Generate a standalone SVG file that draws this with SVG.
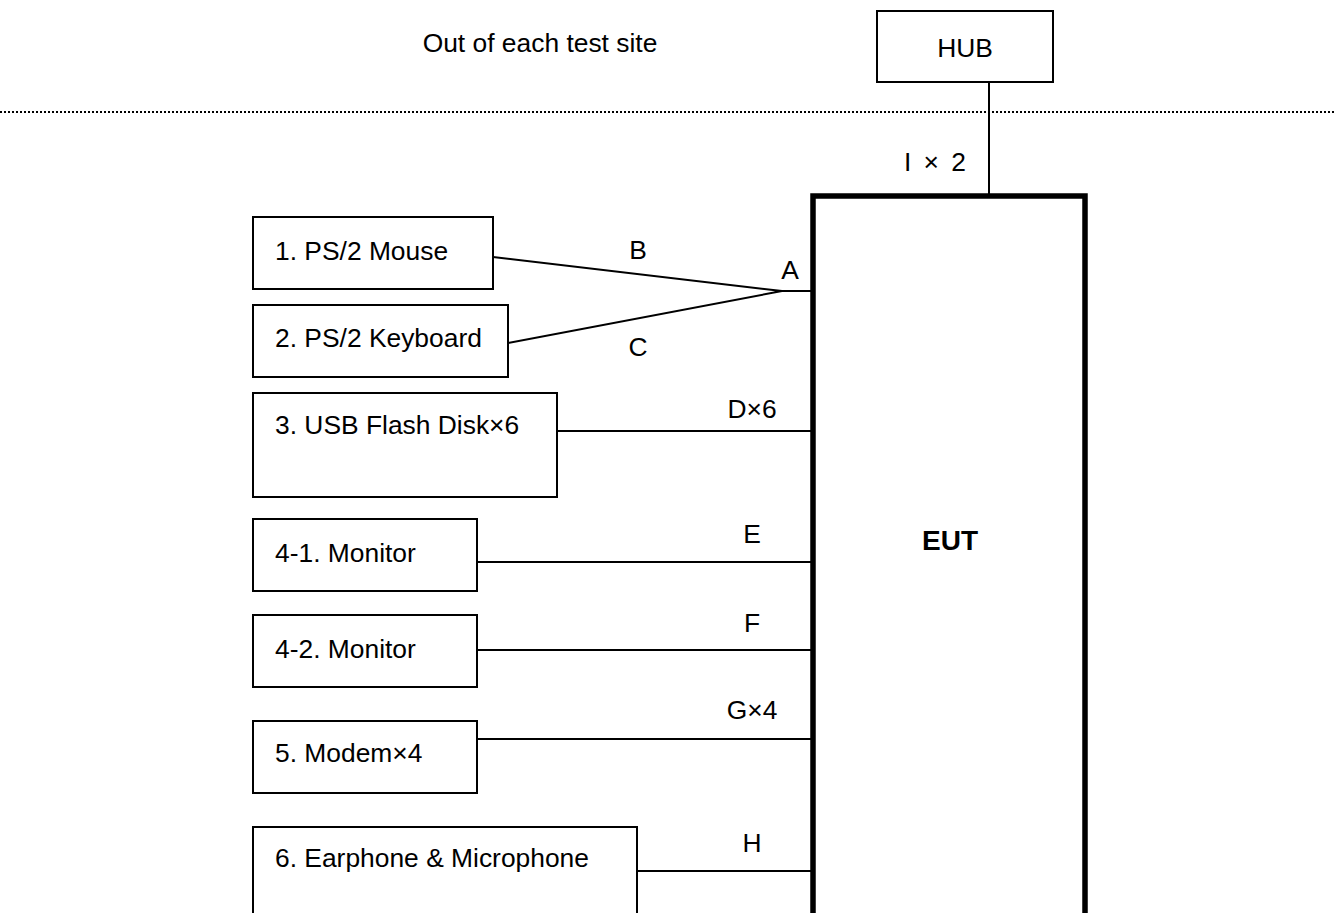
<svg xmlns="http://www.w3.org/2000/svg" width="1340" height="913" viewBox="0 0 1340 913">
<style>
text{font-family:"Liberation Sans",Arial,sans-serif;font-size:26.4px;fill:#000}
.box{fill:#fff;stroke:#000;stroke-width:2}
.ln{stroke:#000;stroke-width:2;fill:none}
.mid{text-anchor:middle}
</style>
<rect width="1340" height="913" fill="#fff"/>
<text x="540" y="52" class="mid">Out of each test site</text>
<line x1="0" y1="112" x2="1336" y2="112" stroke="#000" stroke-width="2" stroke-dasharray="2 2"/>
<g id="connectors">
<line class="ln" x1="989" y1="82" x2="989" y2="194"/>
<polyline class="ln" points="493,257 782,291 508,343"/>
<line class="ln" x1="782" y1="291" x2="812" y2="291"/>
<line class="ln" x1="557" y1="431" x2="812" y2="431"/>
<line class="ln" x1="477" y1="562" x2="812" y2="562"/>
<line class="ln" x1="477" y1="650" x2="812" y2="650"/>
<line class="ln" x1="477" y1="739" x2="812" y2="739"/>
<line class="ln" x1="637" y1="871" x2="812" y2="871"/>
<text x="935" y="171" class="mid" style="word-spacing:5px">I × 2</text>
<text x="638" y="259" class="mid">B</text>
<text x="638" y="356" class="mid">C</text>
<text x="790" y="279" class="mid">A</text>
<text x="752" y="418" class="mid">D×6</text>
<text x="752" y="543" class="mid">E</text>
<text x="752" y="632" class="mid">F</text>
<text x="752" y="719" class="mid">G×4</text>
<text x="752" y="852" class="mid">H</text>
</g>
<g id="hub"><rect class="box" x="877" y="11" width="176" height="71"/><text x="965" y="57" class="mid">HUB</text></g>
<g id="eut"><rect x="813" y="196" width="272" height="800" fill="none" stroke="#000" stroke-width="5.5"/><text x="950" y="550" class="mid" style="font-weight:bold;font-size:28px">EUT</text></g>
<g id="mouse"><rect class="box" x="253" y="217" width="240" height="72"/><text x="275" y="260">1. PS/2 Mouse</text></g>
<g id="keyboard"><rect class="box" x="253" y="305" width="255" height="72"/><text x="275" y="347">2. PS/2 Keyboard</text></g>
<g id="usb"><rect class="box" x="253" y="393" width="304" height="104"/><text x="275" y="434">3. USB Flash Disk×6</text></g>
<g id="monitor1"><rect class="box" x="253" y="519" width="224" height="72"/><text x="275" y="562">4-1. Monitor</text></g>
<g id="monitor2"><rect class="box" x="253" y="615" width="224" height="72"/><text x="275" y="658">4-2. Monitor</text></g>
<g id="modem"><rect class="box" x="253" y="721" width="224" height="72"/><text x="275" y="762">5. Modem×4</text></g>
<g id="earphone"><rect class="box" x="253" y="827" width="384" height="120"/><text x="275" y="867">6. Earphone &amp; Microphone</text></g>
</svg>
